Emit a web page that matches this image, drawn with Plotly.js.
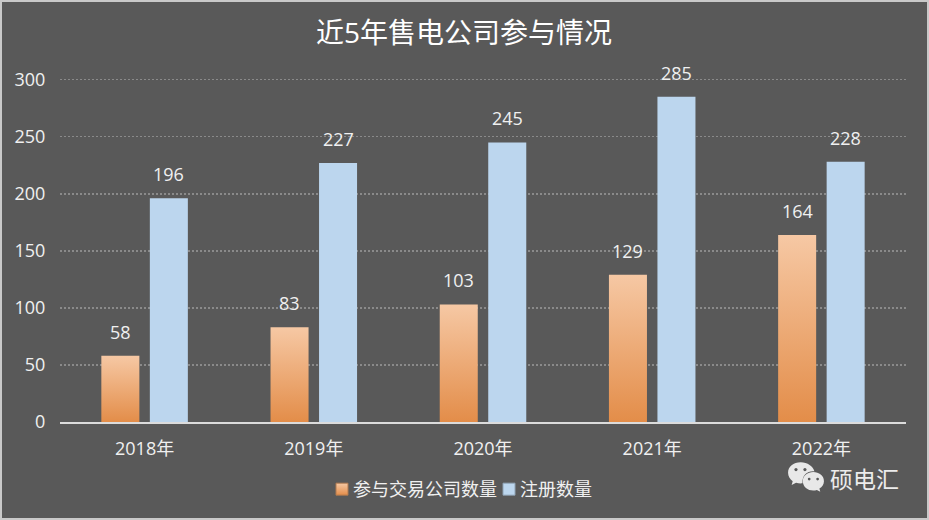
<!DOCTYPE html>
<html><head><meta charset="utf-8">
<script src="https://cdn.plot.ly/plotly-3.0.1.min.js"></script>
<style>html,body{margin:0;padding:0;background:#595959;overflow:hidden}
#c{position:relative;width:929px;height:520px}
#frame{position:absolute;left:0;top:0;width:929px;height:520px;box-sizing:border-box;border:2px solid #c9c9c9;pointer-events:none;z-index:10}</style>
</head><body><div id="c"></div><div id="frame"></div>
<script>
const categories = ['2018年','2019年','2020年','2021年','2022年'];
const traded = [58,83,103,129,164];
const registered = [196,227,245,285,228];
const seriesNames = ['参与交易公司数量','注册数量'];
const yTicks = [0,50,100,150,200,250,300];
const chartTitle = '近5年售电公司参与情况';
const watermark = '硕电汇';

const FONT = '"Open Sans","Noto Sans CJK SC",sans-serif';
const CJK = '"Noto Sans CJK SC",sans-serif';
const W=929,H=520,ML=60,MR=23,MB=97.5,YTOP=305;
const ph=342.5*YTOP/300, MT=H-MB-ph;
const pw=W-ML-MR;
const px=x=>(x-ML)/pw, py=y=>1-(y-MT)/ph;

const icon = `<svg xmlns="http://www.w3.org/2000/svg" viewBox="0 0 36 30"><path fill="#e8e8e8" d="M13 1C6 1 1 5 1 11c0 3.400 1.800 6.100 4.400 8l-1 3.600 4.200-2.100c1.400.4 2.900.6 4.400.6.600 0 1.200 0 1.700-.1C14 13 20 9 26 9.800 24.700 4.700 19.400 1 13 1z"/><path fill="#e8e8e8" d="M35 19c0-5.300-4.800-8.600-10.100-8.600S15 13.700 15 19s4.600 8.800 9.900 8.800c1.200 0 2.300-.2 3.400-.5l3.200 1.700-.8-3C33.300 24.300 35 21.900 35 19z"/><circle cx="8.500" cy="8" r="1.500" fill="#595959"/><circle cx="17" cy="8" r="1.500" fill="#595959"/><circle cx="21" cy="17" r="1.300" fill="#595959"/><circle cx="29" cy="17" r="1.300" fill="#595959"/></svg>`;

const labelOf=(xs,ys,shift)=>xs.map((c,i)=>({x:c,y:ys[i],text:String(ys[i]),xref:'x',yref:'y',showarrow:false,
  xshift:shift,yshift:10,yanchor:'bottom',xanchor:'center',font:{family:FONT,size:18,color:'#f0f0f0'}}));

const data=[
 {type:'bar',name:seriesNames[0],x:categories,y:traded,marker:{color:'#e38d49'},hoverinfo:'none'},
 {type:'bar',name:seriesNames[1],x:categories,y:registered,marker:{color:'#bcd6ee'},hoverinfo:'none'}
];
const layout={
 width:W,height:H,margin:{l:ML,r:MR,t:MT,b:MB,pad:0},
 paper_bgcolor:'#595959',plot_bgcolor:'#595959',
 font:{family:FONT,color:'#f0f0f0',size:18},
 title:{text:chartTitle,x:0.4995,xanchor:'center',y:0.936,yanchor:'middle',font:{family:FONT,size:28,color:'#ffffff'}},
 barmode:'group',bargap:0.4267,bargroupgap:0.216,
 xaxis:{type:'category',showgrid:false,showline:true,linecolor:'#dcdcdc',linewidth:2,ticks:'outside',ticklen:9,tickcolor:'rgba(0,0,0,0)',
        tickfont:{family:FONT,size:18,color:'#f0f0f0'},automargin:false},
 yaxis:{range:[0,YTOP],tickmode:'array',tickvals:yTicks,ticktext:yTicks.map(String),
        showgrid:true,gridcolor:'#8a8a8a',griddash:'2px,2px',gridwidth:1.4,zeroline:false,showline:false,ticks:'outside',ticklen:10,tickcolor:'rgba(0,0,0,0)',
        tickfont:{family:FONT,size:18,color:'#f0f0f0'},automargin:false},
 legend:{orientation:'h',x:px(464),xanchor:'center',y:py(490),yanchor:'middle',bgcolor:'rgba(0,0,0,0)',
        font:{family:FONT,size:18,color:'#f0f0f0'},itemclick:false,traceorder:'normal'},
 annotations:[...labelOf(categories,traded,-24.250),...labelOf(categories,registered,24.250),
   {xref:'paper',yref:'paper',x:px(864),y:py(479),text:watermark,showarrow:false,xanchor:'center',yanchor:'middle',
    font:{family:CJK,size:23,color:'#ececec'}}],
 images:[{source:'data:image/svg+xml;charset=utf-8,'+encodeURIComponent(icon),xref:'paper',yref:'paper',
   x:px(787),y:py(461),sizex:38/pw,sizey:33/ph,xanchor:'left',yanchor:'top',sizing:'contain',layer:'above'}]
};

const swatchCenters=[342,509], textLefts=[353,520];
function applyStyle(){
  const svg=document.querySelector('#c svg.main-svg');
  const NS='http://www.w3.org/2000/svg';
  if(!document.getElementById('gradOrange')){
    let defs=svg.querySelector('defs')||svg.insertBefore(document.createElementNS(NS,'defs'),svg.firstChild);
    const g=document.createElementNS(NS,'linearGradient');
    g.setAttribute('id','gradOrange');g.setAttribute('x1','0');g.setAttribute('y1','0');g.setAttribute('x2','0');g.setAttribute('y2','1');
    [['0','#f6c8a4'],['1','#e38d49']].forEach(([o,c])=>{const s=document.createElementNS(NS,'stop');s.setAttribute('offset',o);s.setAttribute('stop-color',c);g.appendChild(s);});
    defs.appendChild(g);
  }
  document.querySelectorAll('#c .trace.bars').forEach((t,i)=>{
    if(i===0) t.querySelectorAll('path').forEach(p=>p.style.setProperty('fill','url(#gradOrange)'));
  });
  const leg=document.querySelector('#c .legend');
  const clip=leg.querySelector('.scrollbox');
  if(clip) clip.removeAttribute('clip-path');
  leg.querySelectorAll('.traces').forEach((t,i)=>{
    const sw=t.querySelector('.legendbar path')||t.querySelector('.legendpoints path');
    if(sw){
      sw.style.setProperty('stroke',i===0?'#b07a50':'#8fa3b5','important');sw.style.setProperty('stroke-width','1px','important');
      if(i===0)sw.style.setProperty('fill','url(#gradOrange)','important');
    }
    const m=/translate\(([-\d.]+)[ ,]*([-\d.]+)?\)/.exec(t.getAttribute('transform')||'');
    const tx=m?+m[1]:0, ty=m&&m[2]?+m[2]:0;
    const r=sw.getBoundingClientRect();
    const dx=swatchCenters[i]-(r.left+r.width/2);
    t.setAttribute('transform','translate('+(tx+dx)+','+ty+')');
    const tn=t.querySelector('.legendtext');
    const tr=tn.getBoundingClientRect();
    tn.setAttribute('x',(+tn.getAttribute('x'))+(textLefts[i]-tr.left));
  });
}
Plotly.newPlot('c',data,layout,{displayModeBar:false,staticPlot:true}).then(gd=>{applyStyle();});
</script></body></html>
